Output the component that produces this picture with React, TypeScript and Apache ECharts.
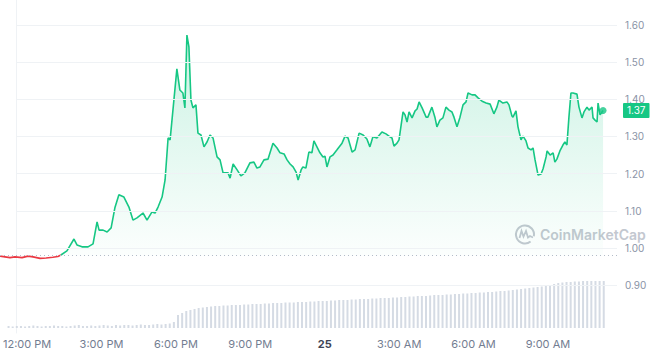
import React, { useEffect, useRef } from 'react';
import * as echarts from 'echarts';

// hours since 12:00 PM (day 24)
const times = [
  -0.8, -0.6, -0.4, -0.2, 0.08, 0.32, 0.52, 0.8, 1.04, 1.31, 1.51,
  1.63, 1.87, 2.15, 2.27, 2.47, 2.71, 2.91, 3.07, 3.15, 3.31, 3.47, 3.63, 3.78, 3.94, 4.14, 4.34, 4.5, 4.66, 4.9, 5.06, 5.26, 5.38, 5.5, 5.66, 5.78, 5.9, 5.98,
  6.25, 6.37, 6.49, 6.57, 6.65, 6.73, 6.81, 6.89, 7.01, 7.09, 7.21, 7.33, 7.45, 7.57, 7.69, 7.85, 7.97, 8.09, 8.29, 8.37, 8.49, 8.65, 8.8, 8.96,
  9.16, 9.32, 9.44, 9.56, 9.72, 9.88, 10.08, 10.24, 10.36, 10.52, 10.64, 10.76, 10.88, 11.0, 11.08, 11.2, 11.27, 11.39, 11.51, 11.63, 11.71, 11.83, 11.95,
  12.07, 12.15, 12.23, 12.35, 12.47, 12.63, 12.83, 12.95, 13.07, 13.23, 13.35, 13.51, 13.67, 13.82, 13.94, 14.06, 14.22, 14.42, 14.58, 14.74, 14.82, 14.9,
  15.02, 15.1, 15.26, 15.34, 15.42, 15.5, 15.62, 15.74, 15.82, 15.9, 16.02, 16.18, 16.25, 16.41, 16.53, 16.61, 16.73, 16.85, 16.97, 17.09, 17.21, 17.29,
  17.41, 17.53, 17.65, 17.77, 17.85, 18.01, 18.13, 18.25, 18.41, 18.57, 18.73, 18.88, 19.0, 19.08, 19.24, 19.4, 19.48, 19.6, 19.64, 19.76, 19.84, 19.96,
  20.04, 20.16, 20.24, 20.36, 20.44, 20.52, 20.64, 20.76, 20.84, 20.96, 21.0, 21.12, 21.24, 21.31, 21.39, 21.51, 21.63, 21.71, 21.79, 21.87, 21.95,
  22.03, 22.19, 22.27, 22.39, 22.47, 22.59, 22.67, 22.79, 22.83, 22.91, 22.99, 23.03, 23.11, 23.23,
];
const prices = [
  0.978, 0.976, 0.974, 0.976, 0.974, 0.978, 0.976, 0.972, 0.973, 0.975, 0.977,
  0.981, 0.992, 1.024, 1.008, 1.003, 1.003, 1.011, 1.07, 1.048, 1.048, 1.043, 1.054, 1.108, 1.143, 1.137, 1.11, 1.075, 1.081, 1.094, 1.075, 1.097, 1.094, 1.11, 1.137, 1.183, 1.296, 1.291,
  1.482, 1.425, 1.417, 1.377, 1.573, 1.541, 1.398, 1.377, 1.385, 1.309, 1.304, 1.272, 1.285, 1.304, 1.296, 1.245, 1.237, 1.202, 1.202, 1.188, 1.226, 1.21, 1.194, 1.202,
  1.229, 1.231, 1.215, 1.218, 1.237, 1.239, 1.282, 1.269, 1.256, 1.253, 1.237, 1.226, 1.218, 1.204, 1.183, 1.21, 1.218, 1.215, 1.258, 1.256, 1.288, 1.272, 1.256,
  1.245, 1.247, 1.218, 1.245, 1.25, 1.264, 1.282, 1.301, 1.296, 1.258, 1.264, 1.309, 1.304, 1.293, 1.272, 1.299, 1.296, 1.312, 1.307, 1.299, 1.296, 1.274,
  1.282, 1.291, 1.366, 1.358, 1.339, 1.366, 1.35, 1.369, 1.374, 1.393, 1.377, 1.352, 1.352, 1.379, 1.352, 1.326, 1.344, 1.35, 1.379, 1.371, 1.366, 1.352,
  1.326, 1.352, 1.385, 1.393, 1.417, 1.412, 1.412, 1.404, 1.395, 1.39, 1.387, 1.361, 1.379, 1.398, 1.39, 1.393, 1.385, 1.355, 1.352, 1.369, 1.326, 1.291,
  1.301, 1.288, 1.269, 1.264, 1.269, 1.237, 1.196, 1.199, 1.213, 1.245, 1.261, 1.25, 1.256, 1.231, 1.239, 1.261, 1.277, 1.285, 1.277, 1.352, 1.417,
  1.417, 1.414, 1.379, 1.35, 1.366, 1.379, 1.371, 1.379, 1.35, 1.344, 1.339, 1.39, 1.358, 1.37,
];
const openPrice = 0.979;

// 10-minute volume bars
const volStartHour = -0.75;
const volStepHour = 1 / 6;
const volumes = [
  2, 1.5, 2, 2, 1.5, 2, 2.5, 2, 1.5, 2, 2, 2.5, 2, 2, 1.5, 2, 2.5, 3, 2, 2, 2.5, 2, 2.5, 3, 2.5, 2, 3, 2.5, 3, 3, 2.5, 3, 3.5, 3, 3, 3.5, 4, 3.5, 4, 4.5, 6,
  13, 15, 17, 18, 19, 20, 20.5, 21, 21.5,
  22, 22, 22.5, 22.5, 23, 23, 23, 23.5, 23.5, 24, 24, 24, 24.5, 24.5, 25, 25, 25, 25.5, 25.5, 25.5, 26, 26,
  26, 26.5, 26.5, 27, 27, 27, 27.5, 27.5, 28, 28, 28, 28.5, 28.5, 29, 29, 29, 29.5, 29.5, 30, 30, 30, 30.5, 30.5, 31,
  31, 31.5, 31.5, 32, 32, 32, 32.5, 33, 33, 33, 33.5, 33.5, 34, 34, 34.5, 34.5, 35, 35, 35.5, 35.5, 36, 36, 36.5, 37,
  37, 37.5, 38, 38.5, 39, 39.5, 40, 40.5, 41, 41.5, 42, 43, 44, 45, 45.5, 46, 46, 46.5, 46.5, 47, 47, 47, 47, 47, 47,
];

const xTickHours = [0, 3, 6, 9, 12, 15, 18, 21];
const xTickLabels = ['12:00 PM', '3:00 PM', '6:00 PM', '9:00 PM', '25', '3:00 AM', '6:00 AM', '9:00 AM'];
const dayLabel = '25';
const yTicks = [0.9, 1.0, 1.1, 1.2, 1.3, 1.4, 1.5, 1.6];

const GREEN = '#16c784';
const RED = '#ea3943';
const FONT = 'Inter, "Noto Sans", sans-serif';

export default function App() {
  const ref = useRef<HTMLDivElement>(null);
  useEffect(() => {
    const chart = echarts.init(ref.current as HTMLDivElement, null, { renderer: 'svg' });
    const pts = times.map((t, i) => [t, prices[i]]);
    const k = prices.findIndex((p) => p >= openPrice);
    const redPts = pts.slice(0, k + 1);
    const greenPts = pts.slice(k);
    const last = pts[pts.length - 1];
    const volData = volumes.map((v, i) => [volStartHour + i * volStepHour, v]);
    const xMin = -0.797;
    const xMax = 23.785;
    const gridStart = -0.16;
    const yMin = yTicks[0];
    const yMax = yTicks[yTicks.length - 1];
    const wmColor = '#c3c8d0';

    chart.setOption({
      animation: false,
      grid: [
        { left: 0, right: 39, top: 25, bottom: 66.9 },
        { left: 0, right: 39, top: 281, bottom: 24 },
        { left: 16, right: 39, top: 0, bottom: 19 },
      ],
      xAxis: [
        { gridIndex: 0, type: 'value', min: xMin, max: xMax, show: false },
        {
          gridIndex: 1, type: 'value', min: xMin, max: xMax,
          axisLine: { show: false }, axisTick: { show: false }, splitLine: { show: false },
          axisLabel: {
            customValues: xTickHours,
            margin: 10,
            fontSize: 11,
            color: '#737d91',
            fontFamily: FONT,
            formatter: (v: number) => {
              const i = xTickHours.indexOf(Math.round(v));
              const s = i >= 0 ? xTickLabels[i] : '';
              return s === dayLabel ? '{b|' + s + '}' : s;
            },
            rich: { b: { fontWeight: 'bold', color: '#3d4455', fontSize: 11, fontFamily: FONT } },
          },
        },
        { gridIndex: 2, type: 'value', min: 0, max: 1, show: false },
      ],
      yAxis: [
        {
          gridIndex: 0, type: 'value', position: 'right', min: yMin, max: yMax, interval: 0.1,
          axisLine: { show: false }, axisTick: { show: false }, splitLine: { show: false },
          axisLabel: { formatter: (v: number) => v.toFixed(2), color: '#8a93a6', fontSize: 10, margin: 8, fontFamily: FONT },
        },
        { gridIndex: 1, type: 'value', min: 0, max: Math.max(...volumes), show: false },
        {
          gridIndex: 2, type: 'value', position: 'right', min: 0, max: 1,
          axisLine: { show: true, lineStyle: { color: '#eff2f5' } },
          axisTick: { show: false }, axisLabel: { show: false }, splitLine: { show: false },
        },
      ],
      graphic: [
        {
          type: 'group', z: 0, silent: true,
          children: [
            { type: 'arc', shape: { cx: 525, cy: 234.5, r: 9, startAngle: 0.9, endAngle: 0.9 + Math.PI * 2 - 0.7 }, style: { stroke: wmColor, lineWidth: 2, fill: 'none' } },
            { type: 'polyline', shape: { points: [[519.5, 238], [521.5, 231], [523.5, 236.5], [526, 231], [528, 237.5], [530, 236], [533, 237.5]] }, style: { stroke: wmColor, lineWidth: 1.8, fill: 'none' } },
            { type: 'text', x: 540, y: 234.5, style: { text: 'CoinMarketCap', fill: wmColor, fontSize: 14, fontWeight: 600, fontFamily: FONT, verticalAlign: 'middle' } },
          ],
        },
      ],
      series: [
        {
          type: 'scatter', xAxisIndex: 0, yAxisIndex: 0, data: [], z: 1, silent: true,
          markLine: {
            silent: true, symbol: ['none', 'none'], label: { show: false },
            lineStyle: { color: '#eff2f5', width: 1, type: 'solid' },
            data: yTicks.map((v) => [{ coord: [gridStart, v] }, { coord: [xMax, v] }]),
          },
        },
        {
          type: 'bar', xAxisIndex: 1, yAxisIndex: 1, data: volData, barWidth: 2,
          itemStyle: { color: '#d5dbe4' }, silent: true,
        },
        {
          type: 'line', xAxisIndex: 0, yAxisIndex: 0, data: greenPts, showSymbol: false, z: 3,
          lineStyle: { color: GREEN, width: 1.6 },
          areaStyle: {
            origin: openPrice,
            color: new echarts.graphic.LinearGradient(0, 0, 0, 1, [
              { offset: 0, color: 'rgba(22,199,132,0.32)' },
              { offset: 1, color: 'rgba(22,199,132,0.02)' },
            ]),
          },
          markLine: {
            silent: true, symbol: ['none', 'none'],
            data: [
              { yAxis: openPrice, lineStyle: { type: [1, 3], color: '#b4bcc8', width: 1 }, label: { show: false } },
              {
                yAxis: last[1], lineStyle: { color: 'rgba(0,0,0,0)', width: 0 },
                label: {
                  show: true, position: 'end', distance: 6, formatter: last[1].toFixed(2),
                  backgroundColor: GREEN, color: '#fff', fontSize: 10, fontFamily: FONT, padding: [3, 4, 2, 4], borderRadius: 1,
                },
              },
            ],
          },
        },
        {
          type: 'line', xAxisIndex: 0, yAxisIndex: 0, data: redPts, showSymbol: false, z: 4,
          lineStyle: { color: RED, width: 1.6 },
        },
        {
          type: 'scatter', xAxisIndex: 0, yAxisIndex: 0, data: [last], symbolSize: 7, z: 5,
          itemStyle: { color: GREEN }, silent: true,
        },
      ],
    });
    return () => chart.dispose();
  }, []);
  return <div ref={ref} style={{ position: 'absolute', left: 0, top: 0, width: 656, height: 352 }} />;
}
